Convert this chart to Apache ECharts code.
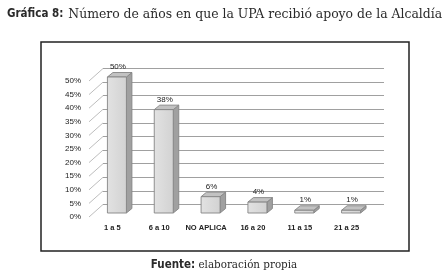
<!DOCTYPE html>
<html><head><meta charset="utf-8">
<script src="https://cdn.jsdelivr.net/npm/echarts@6/dist/echarts.min.js"></script>
<style>html,body{margin:0;padding:0;background:#fff}#c{width:448px;height:280px}</style>
</head><body><div id="c"></div>
<script>
const categories = ['1 a 5', '6 a 10', 'NO APLICA', '16 a 20', '11 a 15', '21 a 25'];
const values = [50, 38, 6, 4, 1, 1];
const yTickValues = [0, 5, 10, 15, 20, 25, 30, 35, 40, 45, 50];
const yMax = 50, yStep = 5;

const DEPTH_X = 14, DEPTH_Y = -12.5;   // wall depth
const BAR_OFF_X = 4.5, BAR_OFF_Y = -4; // bar front set back
const BAR_DX = 5.5, BAR_DY = -4.5;     // bar depth
const BAR_W = 19;

const chart = echarts.init(document.getElementById('c'), null, {renderer: 'canvas'});

function renderBar(params, api) {
  const i = api.value(0), v = api.value(1);
  const base = api.coord([i, 0]);
  const top = api.coord([i, v]);
  const cx = base[0] + BAR_OFF_X;
  const x0 = cx - BAR_W / 2, x1 = cx + BAR_W / 2;
  const yb = base[1] + BAR_OFF_Y, yt = top[1] + BAR_OFF_Y;
  const stroke = {stroke: '#858585', lineWidth: 0.9};
  return {
    type: 'group',
    children: [
      {type: 'polygon', shape: {points: [[x1, yt], [x1 + BAR_DX, yt + BAR_DY], [x1 + BAR_DX, yb + BAR_DY], [x1, yb]]},
       style: Object.assign({fill: '#a0a0a0'}, stroke)},
      {type: 'polygon', shape: {points: [[x0, yt], [x0 + BAR_DX, yt + BAR_DY], [x1 + BAR_DX, yt + BAR_DY], [x1, yt]]},
       style: Object.assign({fill: '#c2c2c2'}, stroke)},
      {type: 'rect', shape: {x: x0, y: yt, width: BAR_W, height: yb - yt},
       style: Object.assign({fill: new echarts.graphic.LinearGradient(0, 0, 1, 0, [{offset: 0, color: '#e2e2e2'}, {offset: 1, color: '#d2d2d2'}])}, stroke)},
      {type: 'text', style: {text: v + '%', x: cx + 1, y: yt + BAR_DY - 1.5, align: 'center', verticalAlign: 'bottom',
        fill: '#222', font: '8px "Liberation Sans"'}}
    ]
  };
}

function renderDiag(params, api) {
  const v = api.value(0);
  const p = api.coord([0, v]);
  const x = params.coordSys.x;
  return {type: 'line', shape: {x1: x, y1: p[1], x2: x + DEPTH_X, y2: p[1] + DEPTH_Y},
    style: {stroke: '#bdbdbd', lineWidth: 1}};
}

chart.setOption({
  animation: false,
  title: {
    text: '{a|Gráfica 8:} {b|Número de años en que la UPA recibió apoyo de la Alcaldía}',
    left: 7, top: 5, padding: 0,
    textStyle: {fontWeight: 'normal', rich: {
      a: {fontFamily: '"DejaVu Sans Condensed"', fontWeight: 'bold', fontSize: 11.5, color: '#2a2a2a'},
      b: {fontFamily: '"DejaVu Serif Condensed"', fontWeight: 'normal', fontSize: 13.8, color: '#2a2a2a'}
    }}
  },
  graphic: [
    {type: 'rect', shape: {x: 41, y: 42, width: 368, height: 209}, style: {fill: 'none', stroke: '#222', lineWidth: 1.5}, z: 100},
    {type: 'text', x: 224, y: 265, style: {text: '{a|Fuente:} {b|elaboración propia}', align: 'center', verticalAlign: 'middle',
      rich: {a: {fontFamily: '"DejaVu Sans Condensed"', fontWeight: 'bold', fontSize: 11.5, fill: '#2a2a2a'},
             b: {fontFamily: '"DejaVu Serif Condensed"', fontWeight: 'normal', fontSize: 11.5, fill: '#2a2a2a'}}}}
  ],
  grid: [
    {left: 89, top: 81, width: 281, height: 136},
    {left: 89 + DEPTH_X, top: 81 + DEPTH_Y, width: 281, height: 136}
  ],
  xAxis: [
    {type: 'category', gridIndex: 0, data: categories, axisLine: {show: false}, axisTick: {show: false},
     axisLabel: {margin: 7, fontSize: 7.5, fontWeight: 'bold', color: '#222', fontFamily: '"Liberation Sans"', interval: 0}},
    {type: 'category', gridIndex: 1, data: categories, show: false}
  ],
  yAxis: [
    {type: 'value', gridIndex: 0, min: 0, max: yMax, interval: yStep, axisLine: {show: false}, axisTick: {show: false},
     splitLine: {show: false},
     axisLabel: {margin: 8, fontSize: 8, color: '#222', fontFamily: '"Liberation Sans"', formatter: '{value}%'}},
    {type: 'value', gridIndex: 1, min: 0, max: yMax, interval: yStep, axisLine: {show: false}, axisTick: {show: false},
     axisLabel: {show: false}, splitLine: {show: true, lineStyle: {color: '#a0a0a0', width: 1}}}
  ],
  series: [
    {type: 'custom', xAxisIndex: 0, yAxisIndex: 0, renderItem: renderDiag, data: yTickValues.map(v => [v]),
     encode: {y: 0}, clip: false, z: 1},
    {type: 'custom', xAxisIndex: 0, yAxisIndex: 0, renderItem: renderBar, data: values.map((v, i) => [i, v]),
     encode: {x: 0, y: 1}, clip: false, z: 5}
  ]
});
</script></body></html>
